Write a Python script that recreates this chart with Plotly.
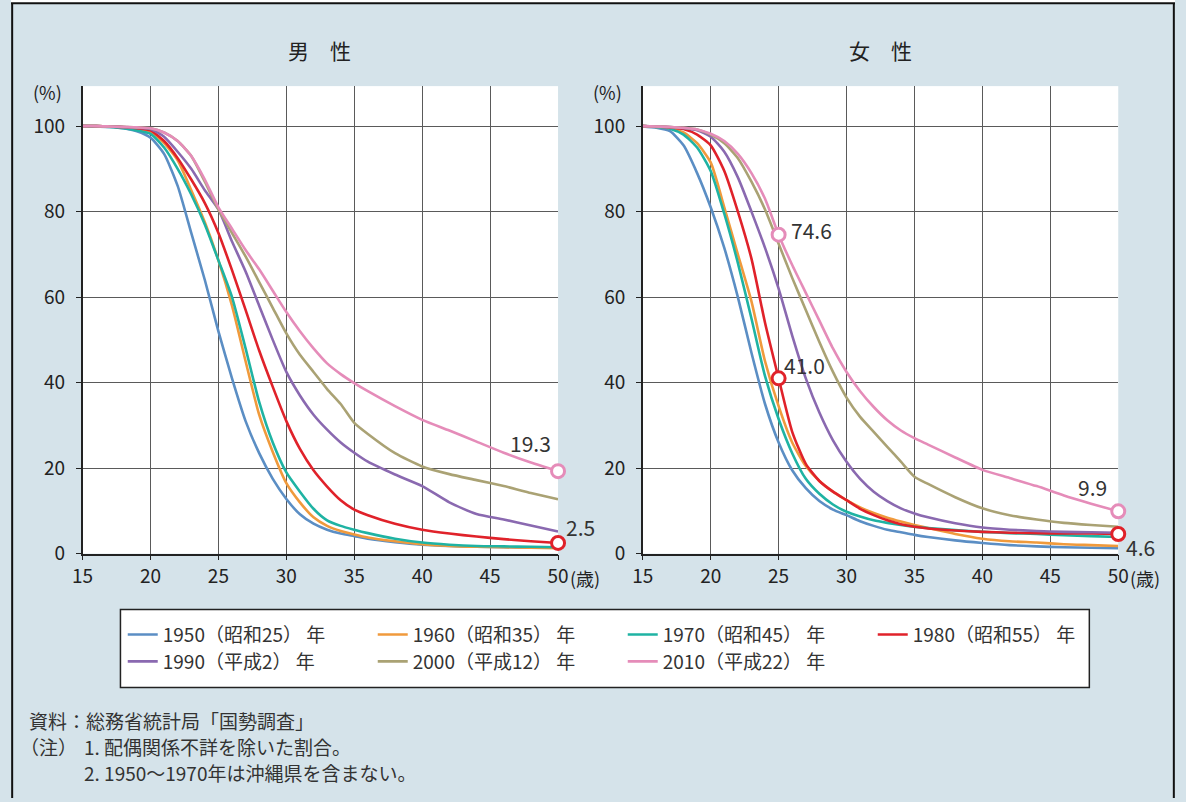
import plotly.graph_objects as go

# ---------------- data ----------------
AGES = [15, 16, 17, 18, 19, 20, 21, 22, 23, 24, 25, 26, 27, 28, 29, 30, 31, 32, 33, 34, 35,
        36, 38, 40, 42, 44, 46, 48, 50]

YEARS = ["1950（昭和25） 年", "1960（昭和35） 年", "1970（昭和45） 年", "1980（昭和55） 年",
         "1990（平成2） 年", "2000（平成12） 年", "2010（平成22） 年"]

male_1950 = [100, 99.9, 99.8, 99.5, 98.8, 97.3, 93.5, 86, 75, 64, 52, 41, 31, 23.5, 17.5, 12.8,
             9.2, 7, 5.6, 4.7, 4.1, 3.5, 2.7, 2.1, 1.8, 1.6, 1.5, 1.4, 1.4]
male_1960 = [100, 100, 99.9, 99.7, 99.3, 98.6, 96, 92, 85, 77.5, 68.6, 58, 45, 32.5, 23.8, 16.5,
             12, 8.5, 6.5, 5.3, 4.5, 3.8, 2.9, 2.2, 1.8, 1.6, 1.5, 1.4, 1.3]
male_1970 = [100, 100, 99.8, 99.5, 99, 98.2, 95, 90, 84, 77, 68.6, 60, 48, 35.5, 26, 19,
             14.5, 10.5, 7.8, 6.5, 5.6, 4.8, 3.5, 2.6, 2.1, 1.8, 1.7, 1.6, 1.5]
male_1980 = [100, 100, 99.9, 99.8, 99.5, 99, 96.5, 92.5, 87.5, 82, 75, 66.3, 57, 47.5, 39, 31,
             24.5, 19.5, 15.7, 12.5, 10.3, 9, 7, 5.6, 4.7, 4, 3.4, 2.9, 2.5]
male_1990 = [100, 100, 99.9, 99.8, 99.6, 99.3, 97.5, 94, 90, 85, 80.5, 73, 66, 58, 50, 42.5,
             37, 32.5, 29, 26, 23.6, 21.5, 18.5, 15.8, 12, 9.3, 8, 6.6, 5.2]
male_2000 = [100, 100, 99.9, 99.8, 99.7, 99.5, 98.5, 96.5, 93, 87, 80.5, 75, 69.5, 63.5, 57.5, 51.5,
             46.5, 42.5, 38.5, 35, 30.6, 28, 23.5, 20.4, 18.6, 17.2, 15.8, 14.2, 12.7]
male_2010 = [100, 100, 99.9, 99.8, 99.7, 99.5, 98.5, 96.5, 93, 87.5, 81, 76, 71, 66.5, 61.5, 56.5,
             52, 48, 44.5, 42, 39.9, 38, 34.5, 31.3, 28.8, 26.2, 23.6, 21.3, 19.3]

female_1950 = [99.9, 99.6, 98.8, 95.5, 89, 81, 71.5, 60, 47, 35, 26, 19.5, 15.3, 12.3, 10.3, 9,
               7.6, 6.5, 5.6, 5, 4.4, 3.9, 3.1, 2.5, 2.0, 1.7, 1.5, 1.4, 1.3]
female_1960 = [100, 99.8, 99.5, 98.5, 96, 91.5, 81, 70, 59, 45, 34.5, 26, 20.5, 17, 14.5, 12.5,
               10.8, 9.5, 8.4, 7.5, 6.7, 6, 4.6, 3.5, 2.9, 2.6, 2.2, 2, 1.8]
female_1970 = [100, 99.8, 99.4, 98, 95, 89.5, 79.5, 68, 55, 41.5, 31.5, 23.5, 17.5, 14, 11.5, 9.8,
               8.7, 7.8, 7.2, 6.7, 6.3, 6, 5.5, 5.1, 4.8, 4.6, 4.3, 4.1, 3.9]
female_1980 = [100, 99.9, 99.7, 99.3, 98, 95.5, 89.5, 80, 69, 54, 41.0, 28.5, 21, 17, 14.5, 12.5,
               10.5, 9, 7.8, 6.9, 6.3, 5.9, 5.4, 5.1, 4.9, 4.8, 4.7, 4.7, 4.6]
female_1990 = [100, 99.9, 99.8, 99.5, 99, 97.5, 94, 88, 80, 71.5, 62, 51, 41, 33, 26.5, 21.5,
               17.5, 14.5, 12.3, 10.6, 9.4, 8.5, 7.1, 6.1, 5.6, 5.3, 5.1, 5, 4.9]
female_2000 = [100, 99.9, 99.8, 99.6, 99.2, 98, 96, 92.5, 87, 80.5, 72.5, 64.5, 57, 49.5, 42.5, 36.5,
               32, 28.5, 25, 21.5, 18, 16.3, 13.2, 10.6, 9, 8, 7.2, 6.7, 6.3]
female_2010 = [100, 99.9, 99.8, 99.6, 99.2, 98.2, 96.5, 93.5, 89, 83, 74.6, 67.5, 61, 54.5, 48, 42.5,
               38, 34.3, 31.2, 28.8, 27, 25.5, 22.5, 19.6, 17.7, 15.8, 13.6, 11.7, 9.9]

MALE = [male_1950, male_1960, male_1970, male_1980, male_1990, male_2000, male_2010]
FEMALE = [female_1950, female_1960, female_1970, female_1980, female_1990, female_2000, female_2010]

X_TICKS = [15, 20, 25, 30, 35, 40, 45, 50]
Y_TICKS = [0, 20, 40, 60, 80, 100]

# highlighted points: (panel, series index, age)
HIGHLIGHTS = [("m", 6, 50), ("m", 3, 50), ("f", 6, 25), ("f", 3, 25), ("f", 6, 50), ("f", 3, 50)]

# ---------------- style ----------------
COLORS = ["#5b8ec4", "#f09a3c", "#1fb3a3", "#e0222a", "#8a69b0", "#aaa274", "#e58cb9"]
FONT = "Noto Sans CJK JP, Noto Sans, sans-serif"
BG = "#d5e3ea"
W, H = 1186, 802

# layout positions are given in target-picture pixels; the capture maps figure
# pixels as X = SX*x + OX, Y = SY*y + OY, so invert that here.
SX, OX, SY, OY = 0.9846, 8.2, 0.986, -0.2


def px(X):
    return ((X - OX) / SX) / W


def py(Y):
    return 1 - ((Y - OY) / SY) / H


fig = go.Figure()

for panel, data, xa, ya in (("m", MALE, "x", "y"), ("f", FEMALE, "x2", "y2")):
    for i, (name, vals) in enumerate(zip(YEARS, data)):
        fig.add_trace(go.Scatter(
            x=AGES, y=vals, mode="lines", name=name,
            line=dict(color=COLORS[i], width=2.6, shape="spline", smoothing=0.6),
            xaxis=xa, yaxis=ya, showlegend=(panel == "m"), legendrank=i,
            legend=("legend" if i < 4 else "legend2"),
            hoverinfo="skip",
        ))

# highlight markers + labels
label_shift = {
    ("m", 6, 50): (-28, 28), ("m", 3, 50): (22, 16),
    ("f", 6, 25): (33, 5), ("f", 3, 25): (26, 13),
    ("f", 6, 50): (-26, 24), ("f", 3, 50): (22, -13),
}
for panel, si, age in HIGHLIGHTS:
    data = MALE if panel == "m" else FEMALE
    xa, ya = ("x", "y") if panel == "m" else ("x2", "y2")
    v = data[si][AGES.index(age)]
    fig.add_trace(go.Scatter(
        x=[age], y=[v], mode="markers", showlegend=False, hoverinfo="skip",
        marker=dict(symbol="circle", size=13, color="white",
                    line=dict(color=COLORS[si], width=3)),
        xaxis=xa, yaxis=ya, cliponaxis=False,
    ))
    dx, dy = label_shift[(panel, si, age)]
    fig.add_annotation(x=age, y=v, xref=xa, yref=ya, text=f"{v:.1f}", showarrow=False,
                       xshift=dx, yshift=dy, font=dict(size=21, color="#333", family=FONT))

YMAX = 100 * (554 - 86) / (554 - 126)
axis_common = dict(showgrid=True, gridcolor="#5a5a5a", gridwidth=1, showline=True,
                   linecolor="#222", linewidth=1.5, ticks="outside", ticklen=5,
                   tickcolor="#222", zeroline=False, fixedrange=True,
                   tickfont=dict(size=19, color="#222", family=FONT))

legend_common = dict(orientation="h", xanchor="left", yanchor="top",
                     bgcolor="rgba(0,0,0,0)", borderwidth=0,
                     font=dict(size=19, color="#333", family=FONT),
                     entrywidth=205, traceorder="normal")

fig.update_layout(
    width=W, height=H,
    margin=dict(l=0, r=0, t=0, b=0),
    paper_bgcolor=BG, plot_bgcolor="white",
    font=dict(family=FONT, color="#222"),
    xaxis=dict(domain=[px(80), px(557)], range=[15, 50], tickvals=X_TICKS, anchor="y", **axis_common),
    yaxis=dict(domain=[py(554), py(86)], range=[0, YMAX], tickvals=Y_TICKS, anchor="x",
               ticklabelstandoff=7, **axis_common),
    xaxis2=dict(domain=[px(642), px(1119)], range=[15, 50], tickvals=X_TICKS, anchor="y2", **axis_common),
    yaxis2=dict(domain=[py(554), py(86)], range=[0, YMAX], tickvals=Y_TICKS, anchor="x2",
                ticklabelstandoff=7, **axis_common),
    legend=dict(x=px(120.3), y=py(616), **legend_common),
    legend2=dict(x=px(120.3), y=py(643), **legend_common),
    showlegend=True,
)

# text annotations
texts = [
    ("男　性", 318, 50, 21),
    ("女　性", 880, 50, 21),
    ("(%)", 45, 92, 18),
    ("(%)", 607, 92, 18),
    ("(歳)", 584, 578, 18),
    ("(歳)", 1146, 578, 18),
]
for t, x, y, sz in texts:
    fig.add_annotation(x=px(x), y=py(y), xref="paper", yref="paper", text=t, showarrow=False,
                       xanchor="center", yanchor="middle", font=dict(size=sz, color="#222", family=FONT))

notes = [
    ("資料：総務省統計局「国勢調査」", 25, 721),
    ("（注）", 16, 747),
    ("1. 配偶関係不詳を除いた割合。", 80, 747),
    ("2. 1950～1970年は沖縄県を含まない。", 80, 773),
]
for t, x, y in notes:
    fig.add_annotation(x=px(x), y=py(y), xref="paper", yref="paper", text=t, showarrow=False,
                       xanchor="left", yanchor="middle", align="left", borderpad=0,
                       font=dict(size=19, color="#333", family=FONT))

# frame, legend box
shapes = [
    dict(type="rect", xref="paper", yref="paper", x0=0, x1=1, y0=py(3), y1=1,
         fillcolor="white", line=dict(width=0), layer="below"),
    dict(type="rect", xref="paper", yref="paper", x0=px(118), x1=px(1090), y0=py(688), y1=py(610),
         fillcolor="white", line=dict(color="#222", width=1.5), layer="below"),
    dict(type="line", xref="paper", yref="paper", x0=0.001, x1=0.001, y0=-0.01, y1=py(3),
         line=dict(color="#111", width=2)),
    dict(type="line", xref="paper", yref="paper", x0=0.999, x1=0.999, y0=-0.01, y1=py(3),
         line=dict(color="#111", width=2)),
    dict(type="line", xref="paper", yref="paper", x0=0, x1=1, y0=py(3), y1=py(3),
         line=dict(color="#111", width=2)),
]
fig.update_layout(shapes=shapes)

POST = ("var s=document.createElement('style');"
        "s.innerHTML='html,body{margin:0!important;padding:0!important;overflow:hidden!important;"
        f"background:{BG};}}';"
        "document.head.appendChild(s);")

fig.write_html("out.html", post_script=POST, config={"displayModeBar": False})
